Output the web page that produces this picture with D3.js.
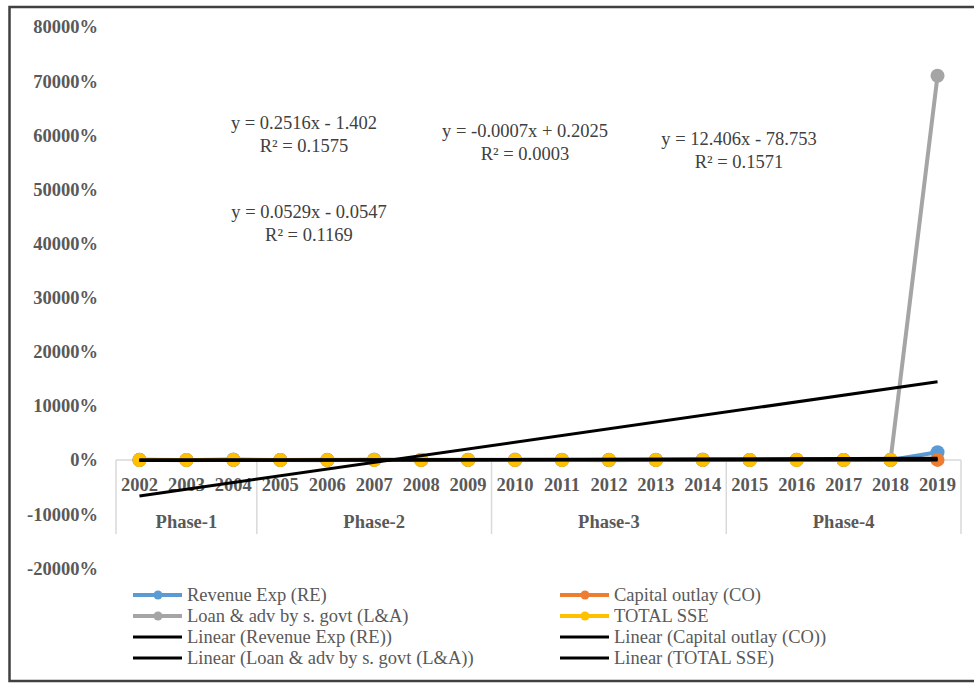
<!DOCTYPE html>
<html>
<head>
<meta charset="utf-8">
<script src="https://cdn.jsdelivr.net/npm/d3@7"></script>
<style>
  body { margin: 0; background: #fff; }
  svg { display: block; font-family: "Liberation Serif", "Times New Roman", serif; }
</style>
</head>
<body>
<script>
// categories
const years = d3.range(2002, 2020).map(String);
const phases = [
  { name: "Phase-1", from: "2002", to: "2004" },
  { name: "Phase-2", from: "2005", to: "2009" },
  { name: "Phase-3", from: "2010", to: "2014" },
  { name: "Phase-4", from: "2015", to: "2019" }
];

// series values (growth as fraction, 1 = 100%)
const revenueExp = [0.10, 0.05, 0.12, 0.09, 0.15, 0.18, 0.11, 0.14, 0.20, 0.13, 0.16, 0.10, 0.12, 0.08, 0.14, 0.11, 0.09, 14.3];
const capitalOutlay = [0.25, 0.18, 0.32, 0.10, 0.28, 0.15, 0.22, 0.30, 0.12, 0.19, 0.26, 0.14, 0.21, 0.17, 0.24, 0.16, 0.20, 0.18];
const loanAdv = [0.5, -0.3, 0.8, 0.2, -0.6, 1.1, 0.4, -0.2, 0.7, 0.3, -0.4, 0.6, 0.9, -0.1, 0.5, 0.2, 0.4, 710];
const totalSSE = [0.12, 0.10, 0.14, 0.11, 0.16, 0.15, 0.13, 0.17, 0.14, 0.12, 0.15, 0.13, 0.14, 0.11, 0.13, 0.12, 0.15, null];

const seriesNames = ["Revenue Exp (RE)", "Capital outlay (CO)", "Loan & adv by s. govt (L&A)", "TOTAL SSE"];
const seriesColors = ["#5B9BD5", "#ED7D31", "#A5A5A5", "#FFC000"];

// linear trend lines (x = 1 for 2002)
const trendSlope = [0.2516, -0.0007, 12.406, 0.0529];
const trendIntercept = [-1.402, 0.2025, -78.753, -0.0547];
const trendEq = ["y = 0.2516x - 1.402", "y = -0.0007x + 0.2025", "y = 12.406x - 78.753", "y = 0.0529x - 0.0547"];
const trendR2 = ["R\u00B2 = 0.1575", "R\u00B2 = 0.0003", "R\u00B2 = 0.1571", "R\u00B2 = 0.1169"];

const yTicks = [-200, -100, 0, 100, 200, 300, 400, 500, 600, 700, 800];

const width = 974, height = 683;
const svg = d3.select("body").append("svg")
  .attr("width", width).attr("height", height);

// outer frame
svg.append("rect")
  .attr("x", 9.5).attr("y", 7)
  .attr("width", 980).attr("height", 674)
  .attr("fill", "none")
  .attr("stroke", "#404040")
  .attr("stroke-width", 2.5);

const x = d3.scaleBand().domain(years).range([116, 961]).padding(0);
const cx = d => x(d) + x.bandwidth() / 2;
const y = d3.scaleLinear().domain([-200, 800]).range([460 + 200 * 0.5413, 460 - 800 * 0.5413]);

const grey = "#595959";

// y axis labels
const yAxis = svg.append("g")
  .attr("transform", "translate(104,0)")
  .call(d3.axisLeft(y).tickValues(yTicks).tickSize(0).tickPadding(6)
    .tickFormat(d => Math.round(d * 100) + "%"));
yAxis.select(".domain").remove();
yAxis.selectAll("text")
  .attr("font-family", "Liberation Serif, serif")
  .attr("font-size", 18.5)
  .attr("font-weight", "bold")
  .attr("fill", grey);

// x axis line
const y0 = y(0);
svg.append("line")
  .attr("x1", x.range()[0]).attr("x2", x.range()[1])
  .attr("y1", y0).attr("y2", y0)
  .attr("stroke", "#d9d9d9").attr("stroke-width", 1.5);

// phase separators
const bounds = [x(phases[0].from)].concat(phases.map(p => x(p.to) + x.bandwidth()));
svg.selectAll(".sep").data(bounds).enter().append("line")
  .attr("x1", d => d).attr("x2", d => d)
  .attr("y1", y0).attr("y2", 534)
  .attr("stroke", "#d9d9d9").attr("stroke-width", 1.5);

// year labels
svg.selectAll(".yr").data(years).enter().append("text")
  .attr("x", d => cx(d)).attr("y", 491)
  .attr("text-anchor", "middle")
  .attr("font-size", 18.5).attr("font-weight", "bold")
  .attr("fill", grey)
  .text(d => d);

// phase labels
svg.selectAll(".ph").data(phases).enter().append("text")
  .attr("x", d => (x(d.from) + x(d.to) + x.bandwidth()) / 2)
  .attr("y", 528)
  .attr("text-anchor", "middle")
  .attr("font-size", 18.5).attr("font-weight", "bold")
  .attr("fill", grey)
  .text(d => d.name);

// series
const allSeries = [revenueExp, capitalOutlay, loanAdv, totalSSE];
const line = d3.line()
  .defined(d => d.v != null)
  .x(d => cx(d.year)).y(d => y(d.v));

allSeries.forEach((vals, i) => {
  const pts = years.map((yr, j) => ({ year: yr, v: vals[j] }));
  const g = svg.append("g");
  g.append("path").datum(pts)
    .attr("d", line)
    .attr("fill", "none")
    .attr("stroke", seriesColors[i])
    .attr("stroke-width", 4)
    .attr("stroke-linejoin", "round");
  g.selectAll("circle").data(pts.filter(d => d.v != null)).enter().append("circle")
    .attr("cx", d => cx(d.year)).attr("cy", d => y(d.v))
    .attr("r", 7)
    .attr("fill", seriesColors[i]);
});

// trend lines
trendSlope.forEach((m, i) => {
  const ends = [1, years.length].map(t => ({ year: years[t - 1], v: m * t + trendIntercept[i] }));
  svg.append("path").datum(ends)
    .attr("d", line)
    .attr("fill", "none")
    .attr("stroke", "#000")
    .attr("stroke-width", 3);
});

// trend equations
const eqPos = [[304, 129], [525, 137], [739, 145], [309, 218]];
trendEq.forEach((eq, i) => {
  const t = svg.append("text")
    .attr("text-anchor", "middle")
    .attr("font-size", 18.5)
    .attr("fill", "#404040");
  t.append("tspan").attr("x", eqPos[i][0]).attr("y", eqPos[i][1]).text(eq);
  t.append("tspan").attr("x", eqPos[i][0]).attr("y", eqPos[i][1] + 23).text(trendR2[i]);
});

// legend
const legendItems = [
  { label: seriesNames[0], color: seriesColors[0], marker: true, col: 0, row: 0 },
  { label: seriesNames[1], color: seriesColors[1], marker: true, col: 1, row: 0 },
  { label: seriesNames[2], color: seriesColors[2], marker: true, col: 0, row: 1 },
  { label: seriesNames[3], color: seriesColors[3], marker: true, col: 1, row: 1 },
  { label: "Linear (" + seriesNames[0] + ")", color: "#000", marker: false, col: 0, row: 2 },
  { label: "Linear (" + seriesNames[1] + ")", color: "#000", marker: false, col: 1, row: 2 },
  { label: "Linear (" + seriesNames[2] + ")", color: "#000", marker: false, col: 0, row: 3 },
  { label: "Linear (" + seriesNames[3] + ")", color: "#000", marker: false, col: 1, row: 3 }
];
const colX = [133, 560];
const leg = svg.selectAll(".leg").data(legendItems).enter().append("g")
  .attr("transform", d => `translate(${colX[d.col]},${595 + d.row * 21})`);
leg.append("line")
  .attr("x1", 0).attr("x2", 49).attr("y1", 0).attr("y2", 0)
  .attr("stroke", d => d.color)
  .attr("stroke-width", d => d.marker ? 4 : 3);
leg.filter(d => d.marker).append("circle")
  .attr("cx", 25).attr("r", 4.5)
  .attr("fill", d => d.color);
leg.append("text")
  .attr("x", 54).attr("y", 6)
  .attr("font-size", 18.5)
  .attr("fill", grey)
  .text(d => d.label);
</script>
</body>
</html>
